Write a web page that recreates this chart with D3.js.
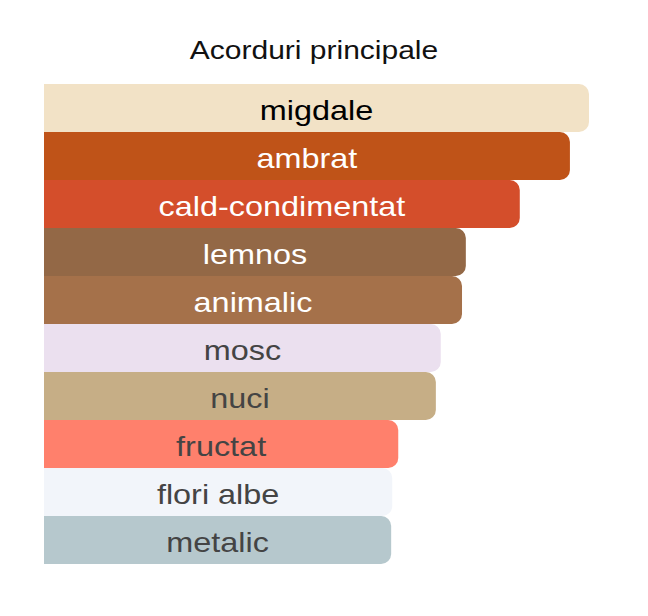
<!DOCTYPE html>
<html>
<head>
<meta charset="utf-8">
<script src="https://cdn.jsdelivr.net/npm/d3@7"></script>
<style>
  body { margin: 0; background: #fff; }
  text { font-family: "Liberation Sans", Arial, sans-serif; }
</style>
</head>
<body>
<div id="chart"></div>
<script>
var title = "Acorduri principale";

var accords = ["migdale", "ambrat", "cald-condimentat", "lemnos", "animalic",
               "mosc", "nuci", "fructat", "flori albe", "metalic"];

var strength = [100, 96.5, 87.3, 77.4, 76.7, 72.8, 71.9, 65.0, 63.9, 63.7];

var barColors = ["#f2e2c6", "#bf5318", "#d44e2b", "#936846", "#a5714a",
                 "#ebe0ef", "#c6ae86", "#ff806c", "#f2f5fa", "#b6c8cd"];

var labelColors = ["#000000", "#ffffff", "#ffffff", "#ffffff", "#ffffff",
                   "#444444", "#444444", "#444444", "#444444", "#444444"];

function init() {

    var w = 648;
    var h = 616;
    var left = 44;
    var r = 10;
    var stretch = 1.2;   // glyphs in the reference are drawn wide

    var xScale = d3.scaleLinear()
                   .domain([0, 100])
                   .range([left, 589]);

    var yScale = d3.scaleBand()
                   .domain(accords)
                   .range([84, 564])
                   .padding(0);

    var svg = d3.select("#chart")
                .append("svg")
                .attr("width", w)
                .attr("height", h);

    // square left side, rounded right corners
    function barPath(d, i) {
        var x0 = xScale(0);
        var x1 = xScale(d);
        var y0 = yScale(accords[i]);
        var y1 = y0 + yScale.bandwidth();
        return "M" + x0 + "," + y0 +
               "H" + (x1 - r) +
               "A" + r + "," + r + " 0 0 1 " + x1 + "," + (y0 + r) +
               "V" + (y1 - r) +
               "A" + r + "," + r + " 0 0 1 " + (x1 - r) + "," + y1 +
               "H" + x0 + "Z";
    }

    svg.append("text")
       .attr("transform", "translate(314,59) scale(" + stretch + ",1)")
       .attr("text-anchor", "middle")
       .attr("font-size", 25)
       .attr("fill", "#111")
       .text(title);

    svg.selectAll("path.bar")
       .data(strength)
       .enter()
       .append("path")
       .attr("class", "bar")
       .attr("d", barPath)
       .attr("fill", function(d, i) {
           return barColors[i];
       });

    svg.selectAll("text.label")
       .data(strength)
       .enter()
       .append("text")
       .attr("class", "label")
       .attr("transform", function(d, i) {
           var cx = (xScale(0) + xScale(d)) / 2;
           var cy = yScale(accords[i]) + yScale.bandwidth() / 2 + 11.5;
           return "translate(" + cx + "," + cy + ") scale(" + stretch + ",1)";
       })
       .attr("text-anchor", "middle")
       .attr("font-size", 27)
       .attr("fill", function(d, i) {
           return labelColors[i];
       })
       .text(function(d, i) {
           return accords[i];
       });
}

window.onload = init;
</script>
</body>
</html>
